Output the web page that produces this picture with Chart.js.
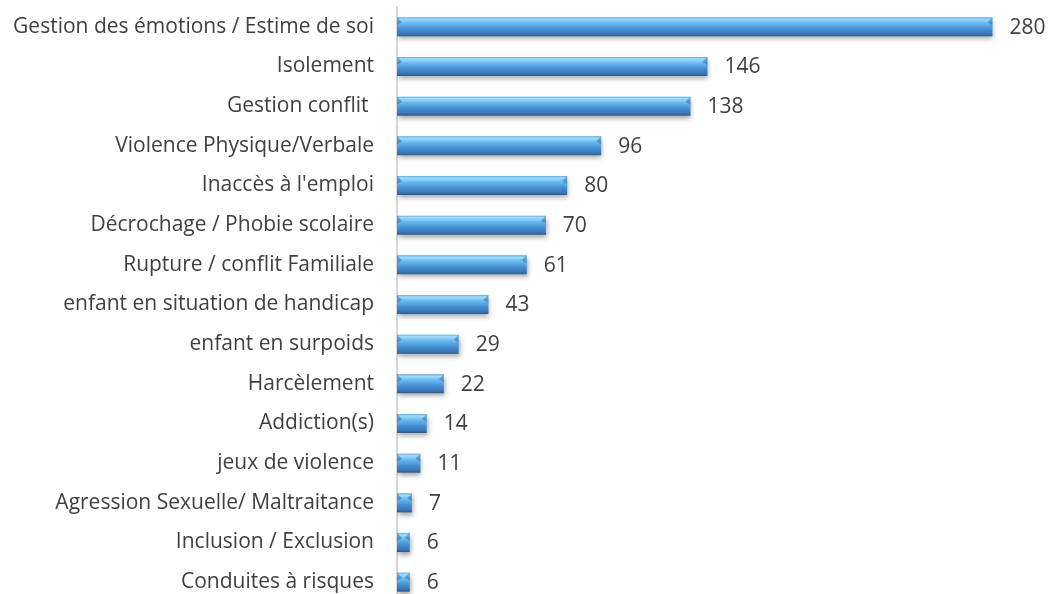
<!DOCTYPE html>
<html>
<head>
<meta charset="utf-8">
<script src="https://cdn.jsdelivr.net/npm/chart.js@4"></script>
<style>
  html, body { margin: 0; padding: 0; background: #fff; overflow: hidden; }
  #wrap { width: 1048px; height: 602px; position: relative; }
</style>
</head>
<body>
<div id="wrap"><canvas id="chart"></canvas></div>
<script>
const categories = [
  "Gestion des émotions / Estime de soi",
  "Isolement",
  "Gestion conflit ",
  "Violence Physique/Verbale",
  "Inaccès à l'emploi",
  "Décrochage / Phobie scolaire",
  "Rupture / conflit Familiale",
  "enfant en situation de handicap",
  "enfant en surpoids",
  "Harcèlement",
  "Addiction(s)",
  "jeux de violence",
  "Agression Sexuelle/ Maltraitance",
  "Inclusion / Exclusion",
  "Conduites à risques",
];
const counts = [280, 146, 138, 96, 80, 70, 61, 43, 29, 22, 14, 11, 7, 6, 6];

const FONT = "'Open Sans', sans-serif";
const TEXT = "#404040";

function barFill(ctx) {
  const chart = ctx.chart;
  const y = chart.scales.y;
  if (!y || ctx.dataIndex === undefined) return "#4a98d8";
  const c = y.getPixelForValue(ctx.dataIndex);
  if (!isFinite(c)) return "#4a98d8";
  const h = 9.5;
  const g = chart.ctx.createLinearGradient(0, c - h, 0, c + h);
  g.addColorStop(0, "#5aa9e2");
  g.addColorStop(0.1, "#a2ddfa");
  g.addColorStop(0.3, "#6bbcf0");
  g.addColorStop(0.6, "#4792d4");
  g.addColorStop(0.88, "#3a75b5");
  g.addColorStop(1, "#2b5a8c");
  return g;
}

const barDecor = {
  id: "barDecor",
  beforeDatasetDraw(chart) {
    const c = chart.ctx;
    c.save();
    c.shadowColor = "rgba(0,0,0,0.35)";
    c.shadowBlur = 5;
    c.shadowOffsetX = 1;
    c.shadowOffsetY = 3;
  },
  afterDatasetDraw(chart) {
    chart.ctx.restore();
  },
  afterDatasetsDraw(chart) {
    const c = chart.ctx;
    const meta = chart.getDatasetMeta(0);
    c.save();
    meta.data.forEach((bar, i) => {
      const top = bar.y - bar.height / 2;
      const s = Math.min(5, (bar.x - bar.base) / 2);
      // bevelled ends
      c.fillStyle = "rgba(30,80,140,0.4)";
      c.beginPath();
      c.moveTo(bar.base, top);
      c.lineTo(bar.base + s, top + s);
      c.lineTo(bar.base, top + s * 1.6);
      c.closePath();
      c.fill();
      c.beginPath();
      c.moveTo(bar.x, top);
      c.lineTo(bar.x - s, top + s);
      c.lineTo(bar.x, top + s * 1.6);
      c.closePath();
      c.fill();
      // value labels
      c.fillStyle = TEXT;
      c.font = "21px " + FONT;
      c.textAlign = "left";
      c.textBaseline = "middle";
      c.fillText(String(counts[i]), bar.x + 17, bar.y + 1);
    });
    c.restore();
  },
};

new Chart(document.getElementById("chart"), {
  type: "bar",
  data: {
    labels: categories,
    datasets: [
      {
        data: counts,
        backgroundColor: barFill,
        borderWidth: 0,
        barPercentage: 0.48,
        categoryPercentage: 1,
      },
    ],
  },
  options: {
    indexAxis: "y",
    responsive: true,
    maintainAspectRatio: false,
    animation: false,
    layout: { padding: { top: 7, right: 13, left: 0, bottom: 0 } },
    plugins: { legend: { display: false }, tooltip: { enabled: false } },
    scales: {
      x: { display: false, min: 0, max: 300 },
      y: {
        afterFit: (scale) => {
          scale.width = 397;
          scale.paddingTop = 0;
          scale.paddingBottom = 0;
        },
        grid: { display: false, drawTicks: false },
        border: { display: true, color: "#d6d6d6", width: 2 },
        ticks: {
          color: TEXT,
          font: { family: FONT, size: 21 },
          padding: 23,
          autoSkip: false,
        },
      },
    },
  },
  plugins: [barDecor],
});
</script>
</body>
</html>
